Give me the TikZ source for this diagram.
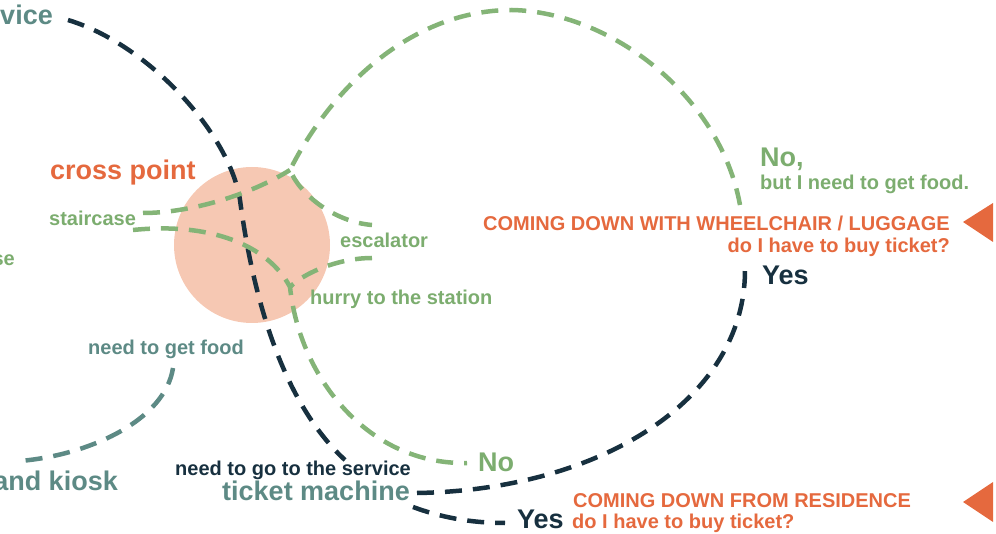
\documentclass[tikz,border=0pt]{standalone}
\usepackage{fontspec}
\setmainfont{Liberation Sans}
\definecolor{corange}{HTML}{E5693E}
\definecolor{cgreen}{HTML}{84B477}
\definecolor{cgreentxt}{HTML}{7CAD6F}
\definecolor{cnavy}{HTML}{17303F}
\definecolor{cteal}{HTML}{5D8A85}
\definecolor{cpeach}{HTML}{F6C8B3}
\begin{document}
\begin{tikzpicture}[x=1pt,y=-1pt,
  lbl/.style={inner sep=0pt, font=\bfseries\fontsize{20}{24}\selectfont},
  big/.style={inner sep=0pt, font=\bfseries\fontsize{27}{32}\selectfont},
  dline/.style={line width=4.5pt, dash pattern=on 17pt off 11pt, draw=cnavy},
  gline/.style={line width=4.5pt, dash pattern=on 17pt off 11pt, draw=cgreen},
  tline/.style={line width=4.5pt, dash pattern=on 17pt off 11pt, draw=cteal},
  arrowtri/.style={fill=corange}]
\useasboundingbox (0,0) rectangle (996,534);
% cross point circle
\node[circle, fill=cpeach, minimum size=156pt, inner sep=0pt] (cp) at (252,245) {};

% texts
\node[big, text=cteal, anchor=base east] (vice) at (53,25) {vice};
\node[big, text=corange, anchor=base west] (cross) at (50,180) {cross point};
\node[lbl, text=cgreentxt, anchor=base west] (stair) at (49,226) {staircase};
\node[lbl, text=cgreentxt, anchor=base east] (se) at (15,266) {se};
\node[lbl, text=cgreentxt, anchor=base west] (esc) at (340,248) {escalator};
\node[lbl, text=cgreentxt, anchor=base west] (hurry) at (310,305) {hurry to the station};
\node[lbl, text=cteal, anchor=base west] (food) at (88,355) {need to get food};
\node[big, text=cteal, anchor=base east] (kiosk) at (118,490) {and kiosk};
\node[lbl, text=cnavy, anchor=base west] (service) at (175,475) {need to go to the service};
\node[big, text=cteal, anchor=base east] (ticket) at (410,500) {ticket machine};
\node[big, text=cgreentxt, anchor=base west] (nolow) at (478,471) {No};
\node[big, text=cnavy, anchor=base west] (yeslow) at (517,528) {Yes};
\node[lbl, text=corange, anchor=base west] (resid) at (573,507) {COMING DOWN FROM RESIDENCE};
\node[lbl, text=corange, anchor=base west] (buylow) at (572,528) {do I have to buy ticket?};
\node[big, text=cgreentxt, anchor=base west] (noup) at (760,167) {No,};
\node[lbl, text=cgreentxt, anchor=base west] (butfood) at (760,190) {but I need to get food.};
\node[lbl, text=corange, anchor=base east] (wheel) at (950,231) {COMING DOWN WITH WHEELCHAIR / LUGGAGE};
\node[lbl, text=corange, anchor=base east] (buyup) at (950,253) {do I have to buy ticket?};
\node[big, text=cnavy, anchor=base west] (yesup) at (762,285) {Yes};

% triangles
\fill[arrowtri] (963,222) -- (993,203) -- (993,242) -- cycle;
\fill[arrowtri] (963,502) -- (993,482) -- (993,522) -- cycle;

% coordinates
\coordinate (a0) at (68,20);
\coordinate (a1) at (240,200);
\coordinate (a2) at (345,460);
\coordinate (b0) at (417,493);
\coordinate (b1) at (745,270);
\coordinate (c0) at (413,507);
\coordinate (c1) at (505,523);
\coordinate (s1) at (143,213);
\coordinate (J) at (290,170);
\coordinate (T) at (512,10);
\coordinate (E1) at (740,205);
\coordinate (esc1) at (372,225);
\coordinate (s2) at (133,230);
\coordinate (K) at (290,287);
\coordinate (N) at (467,463);
\coordinate (esc2) at (372,258);
\coordinate (f0) at (173,368);
\coordinate (f1) at (20,461);

% navy lines
\draw[dline] (a0) .. controls (150,45) and (230,135) .. (a1)
             .. controls (252,290) and (280,400) .. (a2);
\draw[dline] (b0) .. controls (600,490) and (745,400) .. (b1);
\draw[dline] (c0) .. controls (440,517) and (470,523) .. (c1);

% green lines
\draw[gline] (E1) .. controls (720,95) and (610,12) .. (T)
             .. controls (410,10) and (330,90) .. (J)
             .. controls (300,195) and (335,222) .. (esc1);
\draw[gline] (s1) .. controls (190,213) and (250,195) .. (J);
\draw[gline] (s2) .. controls (210,222) and (268,245) .. (K)
             .. controls (300,380) and (370,465) .. (N);
\draw[gline] (esc2) .. controls (340,258) and (305,272) .. (K);

% teal line
\draw[tline] (f0) .. controls (165,420) and (90,455) .. (f1);
\end{tikzpicture}
\end{document}
